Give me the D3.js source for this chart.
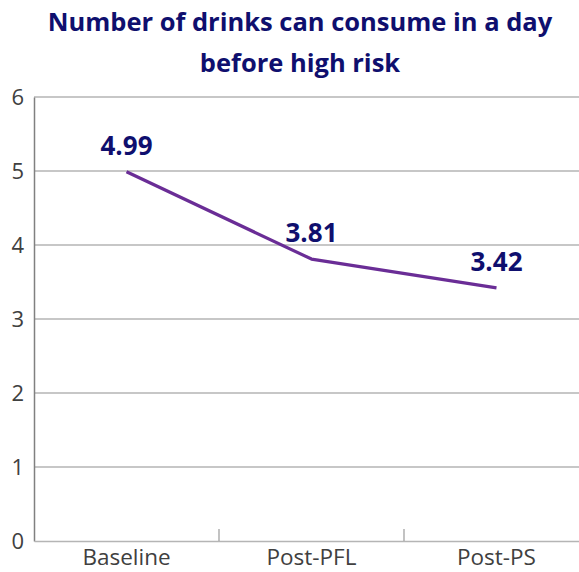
<!DOCTYPE html>
<html>
<head>
<meta charset="utf-8">
<script src="https://cdn.jsdelivr.net/npm/d3@7"></script>
<style>
  html, body { margin: 0; padding: 0; background: #fff; }
  svg { display: block; }
</style>
</head>
<body>
<svg id="chart" width="579" height="572"></svg>
<script>
// Mean drinks per day before high risk, at each time point
const categories = ["Baseline", "Post-PFL", "Post-PS"];
const values = [4.99, 3.81, 3.42];
const yTicks = [0, 1, 2, 3, 4, 5, 6];
const titleLines = ["Number of drinks can consume in a day", "before high risk"];

const svg = d3.select("#chart");
const margin = { left: 34, right: -10, top: 97, bottom: 31 };
const W = 579, H = 572;

const x = d3.scaleBand().domain(categories).range([margin.left, W - margin.right]);
const y = d3.scaleLinear().domain([0, 6]).range([H - margin.bottom, margin.top]);

const font = "'Open Sans', 'Liberation Sans', sans-serif";
const navy = "#0f0f6e";

// horizontal gridlines
svg.append("g").selectAll("line").data(yTicks.filter(d => d > 0)).join("line")
  .attr("x1", margin.left).attr("x2", W - margin.right)
  .attr("y1", d => y(d)).attr("y2", d => y(d))
  .attr("stroke", "#b5b5b5").attr("stroke-width", 1.3);

// y axis
const yAxis = svg.append("g")
  .attr("transform", `translate(${margin.left},0)`)
  .call(d3.axisLeft(y).tickValues(yTicks).tickFormat(d3.format("d")).tickSize(0).tickPadding(10));
yAxis.select(".domain").attr("stroke", "#808080").attr("stroke-width", 1.5);
yAxis.selectAll("text").attr("font-family", font).attr("font-size", 22).attr("fill", "#404040");

// x axis with category separators
const xAxis = svg.append("g")
  .attr("transform", `translate(0,${y(0)})`)
  .call(d3.axisBottom(x).tickSize(0).tickPadding(7));
xAxis.select(".domain").attr("stroke", "#b5b5b5").attr("stroke-width", 1.3);
xAxis.selectAll("text").attr("font-family", font).attr("font-size", 22.5).attr("fill", "#404040").attr("dy", "0.75em");
svg.append("g").selectAll("line").data(categories.slice(1)).join("line")
  .attr("x1", d => x(d)).attr("x2", d => x(d))
  .attr("y1", y(0)).attr("y2", y(0) - 12)
  .attr("stroke", "#9a9a9a").attr("stroke-width", 1.2);

// data line
const pts = categories.map((c, i) => [x(c) + x.bandwidth() / 2, y(values[i])]);
svg.append("path")
  .attr("d", d3.line()(pts))
  .attr("fill", "none").attr("stroke", "#6a2d96").attr("stroke-width", 3.2)
  .attr("stroke-linejoin", "round");

// value labels
svg.append("g").selectAll("text").data(categories).join("text")
  .attr("x", (c) => x(c) + x.bandwidth() / 2)
  .attr("y", (c, i) => y(values[i]) - 17)
  .attr("text-anchor", "middle")
  .attr("font-family", font).attr("font-weight", "bold").attr("font-size", 26)
  .attr("fill", navy)
  .text((c, i) => values[i].toFixed(2));

// title
svg.append("g").selectAll("text").data(titleLines).join("text")
  .attr("x", 300).attr("y", (d, i) => 31 + i * 41)
  .attr("text-anchor", "middle")
  .attr("font-family", font).attr("font-weight", "bold").attr("font-size", 25.5)
  .attr("fill", navy)
  .text(d => d);
</script>
</body>
</html>
